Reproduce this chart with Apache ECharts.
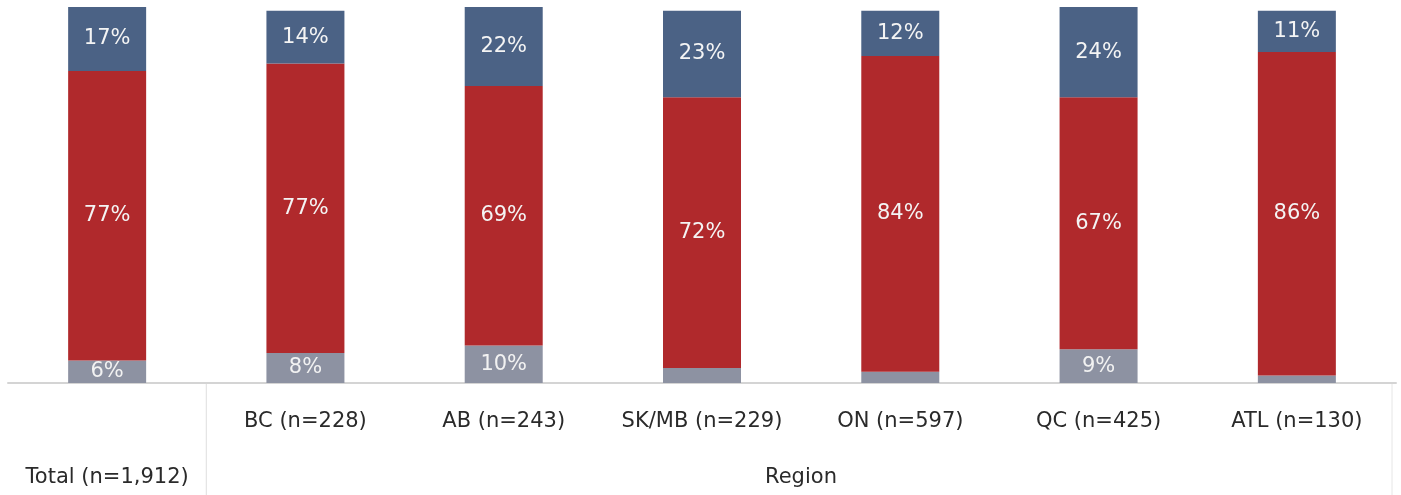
<!DOCTYPE html>
<html>
<head>
<meta charset="utf-8">
<script src="https://cdn.jsdelivr.net/npm/echarts@6/dist/echarts.min.js"></script>
<style>
html,body{margin:0;padding:0;background:#fff;}
#c{width:1401px;height:495px;}
</style>
</head>
<body>
<div id="c"></div>
<script>
const categories = ['Total (n=1,912)', 'BC (n=228)', 'AB (n=243)', 'SK/MB (n=229)', 'ON (n=597)', 'QC (n=425)', 'ATL (n=130)'];
const grayValues = [6, 8, 10, 4, 3, 9, 2];
const redValues = [77, 77, 69, 72, 84, 67, 86];
const blueValues = [17, 14, 22, 23, 12, 24, 11];
const axisName = 'Region';

const FONT = '"DejaVu Sans", sans-serif';
const chart = echarts.init(document.getElementById('c'));

function labelCfg(color) {
  return {
    show: true,
    position: 'inside',
    color: color,
    fontFamily: FONT,
    fontSize: 21,
    formatter: p => (p.value >= 5 ? p.value + '%' : '')
  };
}

chart.setOption({
  animation: false,
  grid: { left: 8, right: 5, top: 7, bottom: 112, containLabel: false, outerBoundsMode: 'none' },
  xAxis: {
    type: 'category',
    data: categories,
    axisLine: { show: true, lineStyle: { color: '#d4d4d4', width: 2 } },
    axisTick: { show: false },
    axisLabel: {
      interval: 0,
      margin: 28,
      fontFamily: FONT,
      fontSize: 21,
      color: '#2a2a2a',
      formatter: (v, i) => (i === 0 ? '{t|' + v + '}' : '{c|' + v + '}'),
      rich: {
        t: { fontFamily: FONT, fontSize: 21, color: '#2a2a2a', padding: [56, 0, 0, 0] },
        c: { fontFamily: FONT, fontSize: 21, color: '#2a2a2a' }
      }
    },
    name: axisName,
    nameLocation: 'middle',
    nameGap: 84,
    nameMoveOverlap: false,
    nameTextStyle: { fontFamily: FONT, fontSize: 21, color: '#2a2a2a', padding: [0, 0, 0, 198] }
  },
  yAxis: {
    type: 'value',
    min: 0,
    max: 100,
    show: false,
    splitLine: { show: false }
  },
  series: [
    { name: 'gray', type: 'bar', stack: 's', barWidth: 78, data: grayValues,
      itemStyle: { color: '#8d92a2' }, label: labelCfg('#f2f2f2') },
    { name: 'red', type: 'bar', stack: 's', barWidth: 78, data: redValues,
      itemStyle: { color: '#b0292c' }, label: labelCfg('#f4f4f4') },
    { name: 'blue', type: 'bar', stack: 's', barWidth: 78, data: blueValues,
      itemStyle: { color: '#4b6285' }, label: labelCfg('#f4f4f4') }
  ]
});

// table separators derived from the axis scale
const x0 = chart.convertToPixel({ xAxisIndex: 0 }, 0);
const x1 = chart.convertToPixel({ xAxisIndex: 0 }, 1);
const xLast = chart.convertToPixel({ xAxisIndex: 0 }, categories.length - 1);
const yBase = chart.convertToPixel({ yAxisIndex: 0 }, 0);
const sepX = (x0 + x1) / 2;
const rightX = xLast + (x1 - x0) / 2 - 4;
chart.setOption({
  graphic: [
    { type: 'line', shape: { x1: sepX, y1: yBase, x2: sepX, y2: 495 }, style: { stroke: '#dedede', lineWidth: 1 } },
    { type: 'line', shape: { x1: rightX, y1: yBase, x2: rightX, y2: 495 }, style: { stroke: '#e6e6e6', lineWidth: 1 } }
  ]
});
</script>
</body>
</html>
